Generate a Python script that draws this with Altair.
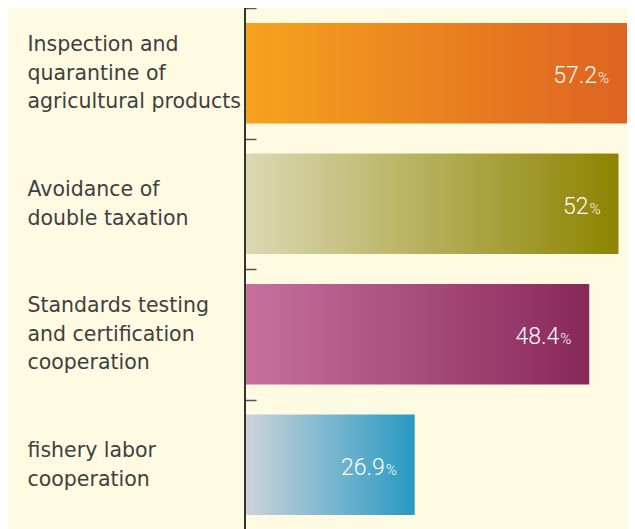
import altair as alt
import pandas as pd

categories = [
    "Inspection and\nquarantine of\nagricultural products",
    "Avoidance of\ndouble taxation",
    "Standards testing\nand certification\ncooperation",
    "fishery labor\ncooperation",
]
values = [57.2, 52, 48.4, 26.9]

grad_left = ["#F7A21E", "#DCD9B2", "#C8719D", "#CED4DA"]
grad_right = ["#DD6321", "#8D8400", "#88285A", "#2799C3"]

df = pd.DataFrame({"cat": categories, "value": values})
df["num"] = [f"{v:g}" for v in values]

y_enc = alt.Y(
    "cat:N",
    sort=categories,
    title=None,
    scale=alt.Scale(paddingInner=0, paddingOuter=0),
    axis=alt.Axis(
        domain=False,
        ticks=True,
        tickSize=11,
        tickWidth=1.5,
        tickColor="#555555",
        tickBand="extent",
        offset=-11,
        labelAlign="left",
        labelBaseline="middle",
        labelPadding=218,
        labelLimit=400,
        labelFont="DejaVu Sans",
        labelFontSize=20.5,
        labelColor="#404040",
        labelLineHeight=28.5,
        labelOffset={
            "condition": {
                "test": "length(split(datum.value, '\\n')) == 3",
                "value": -28.5,
            },
            "value": -14.25,
        },
        labelExpr="split(datum.label, '\\n')",
    ),
)
x_scale = alt.Scale(domain=[6, 53.05], zero=False, nice=False, clamp=True)
x_enc = alt.X("value:Q", scale=x_scale, axis=None)

layers = []
for i, c in enumerate(categories):
    grad = alt.Gradient(
        gradient="linear",
        x1=0, x2=1, y1=0, y2=0,
        stops=[
            alt.GradientStop(color=grad_left[i], offset=0),
            alt.GradientStop(color=grad_right[i], offset=1),
        ],
    )
    layers.append(
        alt.Chart(df)
        .transform_filter(alt.datum.cat == c)
        .mark_bar(color=grad, height=alt.RelativeBandSize(0.77))
        .encode(x=x_enc, y=y_enc)
    )

domain_line = (
    alt.Chart(df)
    .transform_calculate(min_v="6")
    .mark_rule(color="#333333", strokeWidth=1.5)
    .encode(x=alt.X("min_v:Q", scale=x_scale, axis=None))
)

num_text = alt.Chart(df).mark_text(
    align="right", baseline="alphabetic", dx=-30, dy=10,
    font="Roboto", fontWeight=300, fontSize=23, color="white",
).encode(x=x_enc, y=y_enc, text="num:N")

pct_text = alt.Chart(df).mark_text(
    align="left", baseline="alphabetic", dx=-29, dy=10,
    font="Roboto", fontWeight=300, fontSize=15, color="white",
).encode(x=x_enc, y=y_enc, text=alt.value("%"))

chart = (
    alt.layer(*layers, domain_line, num_text, pct_text)
    .properties(
        width=382,
        height=522,
        background="#FEFBE2",
        autosize=alt.AutoSizeParams(type="none"),
        padding={"left": 237, "top": 0, "right": 0, "bottom": 0},
    )
    .configure_view(stroke=None)
)

chart.save("out.html", embed_options={"renderer": "svg", "actions": False})
